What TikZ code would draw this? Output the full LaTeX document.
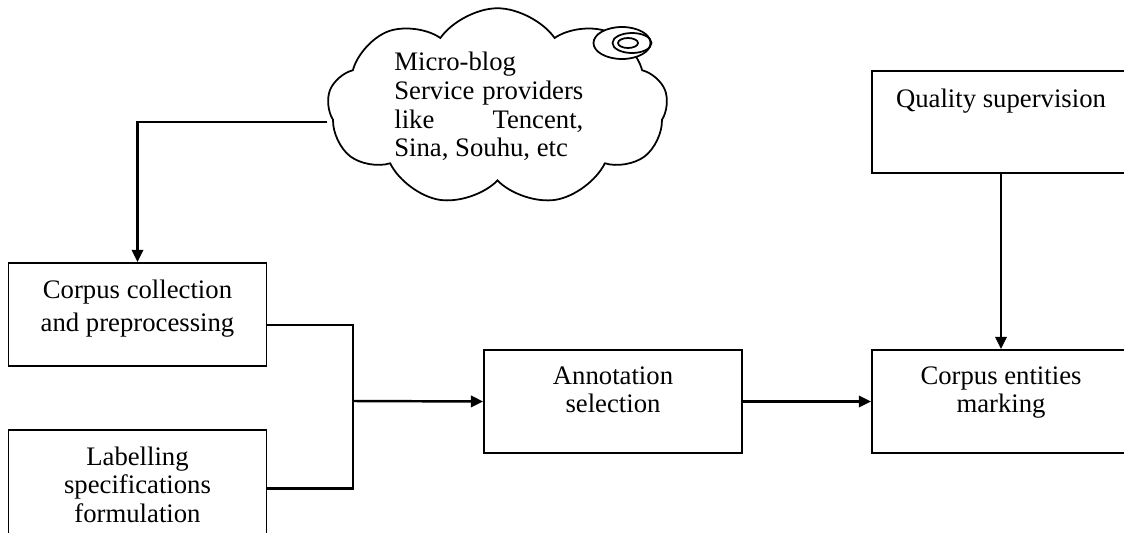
\documentclass[tikz,border=0pt]{standalone}
\usepackage{fontspec}
\setmainfont{Liberation Serif}
\usetikzlibrary{arrows.meta,shapes.symbols}

\begin{document}
\begin{tikzpicture}[
    box/.style={draw, line width=1pt, minimum width=5.16cm, minimum height=2.06cm, inner sep=0pt},
    txt/.style={align=center, inner sep=0pt, font=\fontsize{15.2}{16.3}\selectfont},
    arr/.style={line width=1.4pt, -{Triangle[length=7pt,width=6.5pt]}},
    line/.style={line width=1.4pt}
  ]
  \useasboundingbox (0, 0) rectangle (22.48, 10.64);

  % cloud with the providers
  \node[cloud, draw, line width=1pt, cloud puffs=9, cloud puff arc=110, aspect=1.78,
        minimum width=6.8cm, minimum height=3.95cm, inner sep=0pt] (cloud) at (9.95, 8.5) {};
  \node[anchor=north west, inner sep=0pt, text width=3.78cm, align=justify,
        font=\fontsize{15.2}{16.3}\selectfont] (cloudtxt) at (7.88, 9.6)
        {Micro-blog\\ Service providers\linebreak like Tencent,\linebreak Sina, Souhu, etc};
  \draw[line width=1pt, fill=white] (12.44, 9.78) ellipse (0.57cm and 0.32cm);
  \draw[line width=1pt] (12.64, 9.78) ellipse (0.39cm and 0.2cm);
  \draw[line width=1pt] (12.56, 9.78) ellipse (0.2cm and 0.1cm);

  % boxes
  \node[box] (corpus) at (2.75, 4.35) {};
  \node[box, minimum height=2.1cm] (lab) at (2.75, 0.99) {};
  \node[box] (annot) at (12.26, 2.61) {};
  \node[box] (ent) at (20.02, 2.61) {};
  \node[box, minimum height=2.04cm] (qual) at (20.02, 8.2) {};

  \node[txt, anchor=north] (corpustxt) at ([yshift=-0.34cm]corpus.north)
        {Corpus collection\\[2.5pt] and preprocessing};
  \node[txt, anchor=north] (labtxt) at ([yshift=-0.34cm]lab.north)
        {Labelling\\ specifications\\ formulation};
  \node[txt, anchor=north] (annottxt) at ([yshift=-0.34cm]annot.north)
        {Annotation\\ selection};
  \node[txt, anchor=north] (enttxt) at ([yshift=-0.34cm]ent.north)
        {Corpus entities\\ marking};
  \node[txt, anchor=north] (qualtxt) at ([yshift=-0.36cm]qual.north)
        {Quality supervision};

  % connectors
  \coordinate (join) at (7.06, 2.62);
  \draw[arr] ([yshift=-0.3cm]cloud.west) -| (corpus.north);
  \draw[line] ([yshift=-0.21cm]corpus.east) -| (join) |- ([yshift=-0.12cm]lab.east);
  \draw[arr] (join) -- (annot.west);
  \draw[arr] (annot.east) -- (ent.west);
  \draw[arr] (qual.south) -- (ent.north);
\end{tikzpicture}
\end{document}
